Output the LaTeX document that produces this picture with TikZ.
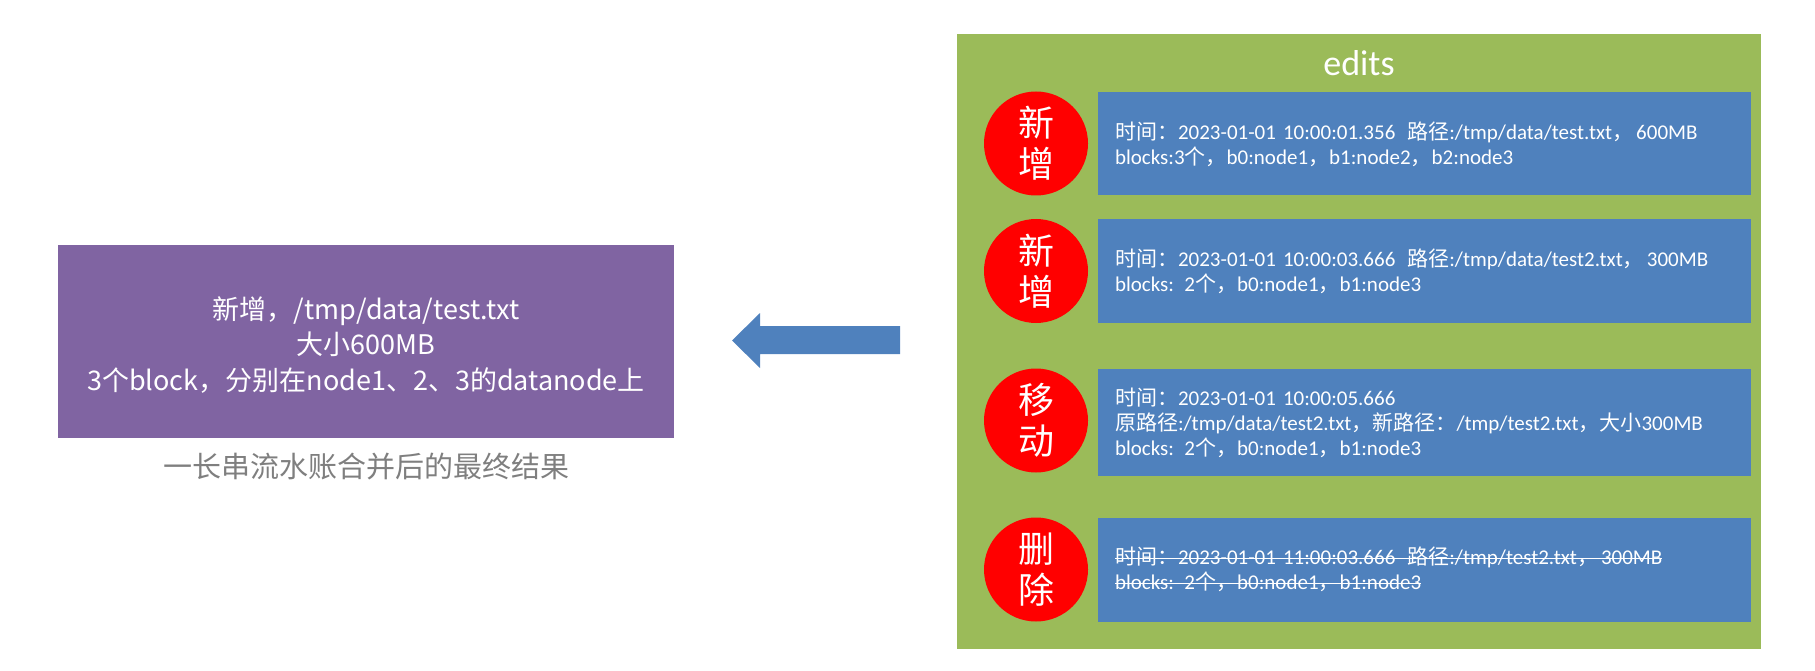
\documentclass[tikz,border=0pt]{standalone}
\usepackage{fontspec}
\setmainfont{Carlito}
\newfontfamily\zhfont{Noto Sans CJK SC}
\newcommand\zh[1]{{\zhfont #1}}
\newcommand\strk[1]{\leavevmode\setbox0=\hbox{#1}\rlap{\copy0}\rule[0.25em]{\wd0}{1.3pt}}
\definecolor{egreen}{HTML}{9BBB59}
\definecolor{eblue}{HTML}{4F81BD}
\definecolor{epurple}{HTML}{8064A2}
\definecolor{ered}{HTML}{FF0000}
\definecolor{capgray}{HTML}{7F7F7F}
\tikzset{
  panel/.style={fill=egreen, draw=none, minimum width=804pt, minimum height=615pt, inner sep=0pt},
  logbox/.style={fill=eblue, draw=none, minimum width=653pt, text width=619pt, inner xsep=17pt, inner ysep=0pt,
    align=left, text=white, font=\fontsize{21}{25}\selectfont},
  opcircle/.style={circle, fill=ered, draw=none, minimum size=104pt, inner sep=0pt, text=white, align=center,
    font=\zhfont\fontsize{36}{41}\selectfont},
  resultbox/.style={fill=epurple, draw=none, minimum width=616pt, minimum height=193pt, inner sep=0pt,
    text=white, align=center, font=\zhfont\fontsize{27}{35.5}\selectfont},
  caption/.style={text=capgray, inner sep=0pt, font=\zhfont\fontsize{29}{34}\selectfont},
  blockarrow/.style={fill=eblue, draw=none}
}
\begin{document}
\begin{tikzpicture}[x=1pt,y=-1pt]
\useasboundingbox (0,0) rectangle (1815,671);
% edits panel
\node[panel] (panel) at (1359,341.5) {};
\node[text=white, inner sep=0pt, anchor=base, font=\fontsize{36}{40}\selectfont] (title) at (1359,76) {edits};
% log entries
\node[logbox, minimum height=103pt] (e1) at (1424.5,144) {\zh{时间：}2023-01-01 10:00:01.356\hspace{12pt}\zh{路径}:/tmp/data/test.txt\zh{，}\hspace{3pt}600MB\\blocks:3\zh{个，}b0:node1\zh{，}b1:node2\zh{，}b2:node3};
\node[logbox, minimum height=104pt] (e2) at (1424.5,271) {\zh{时间：}2023-01-01 10:00:03.666\hspace{12pt}\zh{路径}:/tmp/data/test2.txt\zh{，}\hspace{3pt}300MB\\blocks: 2\zh{个，}b0:node1\zh{，}b1:node3};
\node[logbox, minimum height=107pt] (e3) at (1424.5,422.5) {\zh{时间：}2023-01-01 10:00:05.666\\\zh{原路径}:/tmp/data/test2.txt\zh{，新路径：}/tmp/test2.txt\zh{，大小}300MB\\blocks: 2\zh{个，}b0:node1\zh{，}b1:node3};
\node[logbox, minimum height=104pt] (e4) at (1424.5,569.5) {\strk{\zh{时间：}2023-01-01 11:00:03.666\hspace{12pt}\zh{路径}:/tmp/test2.txt\zh{，}\hspace{3pt}300MB}\\\strk{blocks: 2\zh{个，}b0:node1\zh{，}b1:node3}};
% operation circles
\node[opcircle] (c1) at (1036,143.5) {新\\增};
\node[opcircle] (c2) at (1036,271) {新\\增};
\node[opcircle] (c3) at (1036,420.5) {移\\动};
\node[opcircle] (c4) at (1036,569.5) {删\\除};
% result
\node[resultbox] (result) at (366,341.5) {};
\node[text=white, align=center, inner sep=0pt, font=\zhfont\fontsize{27}{35.5}\selectfont] (resulttext) at (366,345) {新增，/tmp/data/test.txt\\大小600MB\\3个block，分别在node1、2、3的datanode上};
\node[caption] (cap) at (366,467) {一长串流水账合并后的最终结果};
% block arrow
\fill[blockarrow] (900,326) -- (760,326) -- (760,313) -- (732,340.5) -- (760,368) -- (760,354) -- (900,354) -- cycle;
\end{tikzpicture}
\end{document}
